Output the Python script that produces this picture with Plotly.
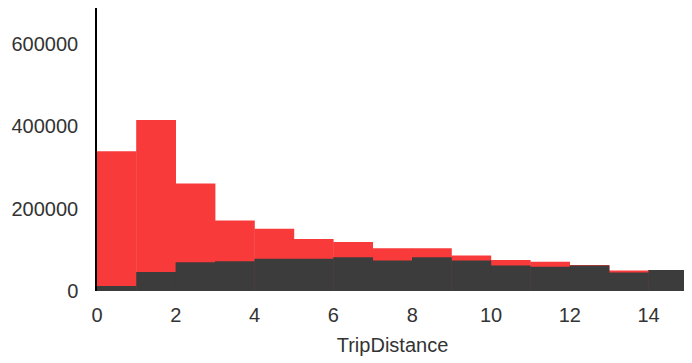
import plotly.graph_objects as go

bin_left = list(range(0, 15))
bin_centers = [b + 0.5 for b in bin_left]
total_counts = [339000, 415000, 261000, 171000, 151000, 126000, 119000, 104000,
                104000, 86000, 75000, 71000, 63000, 50000, 51000]
subset_counts = [12000, 46000, 70000, 72000, 78000, 78000, 82000, 74000,
                 82000, 74000, 62000, 59000, 62000, 45000, 51000]
x_ticks = [0, 2, 4, 6, 8, 10, 12, 14]
y_ticks = [0, 200000, 400000, 600000]

fig = go.Figure()
fig.add_trace(go.Bar(x=bin_centers, y=total_counts, width=1.01,
                     marker=dict(color="#F93A3B", line=dict(width=0)), showlegend=False))
fig.add_trace(go.Bar(x=bin_centers, y=subset_counts, width=1.01,
                     marker=dict(color="#3C3C3C", line=dict(width=0)), showlegend=False))

# page body adds ~8px offset; figure sized to fit the 692x363 window
fig.update_layout(
    width=684, height=355,
    margin=dict(l=89, r=4, t=0, b=72),
    barmode="overlay",
    plot_bgcolor="white", paper_bgcolor="white",
    font=dict(family="Liberation Sans, Arial, sans-serif", size=19, color="#333333"),
    xaxis=dict(range=[0, 15], tickvals=x_ticks, showgrid=False, zeroline=False,
               showline=False, ticks="", ticklabelstandoff=10, automargin=False,
               tickfont=dict(size=20),
               title=dict(text="TripDistance", font=dict(size=20), standoff=12)),
    yaxis=dict(range=[0, 687000], tickvals=y_ticks, showgrid=False, zeroline=False,
               showline=True, linecolor="black", linewidth=1.5, ticks="",
               ticklabelstandoff=13, tickformat="d", automargin=False,
               tickfont=dict(size=20)),
)
fig.write_html("out.html")
